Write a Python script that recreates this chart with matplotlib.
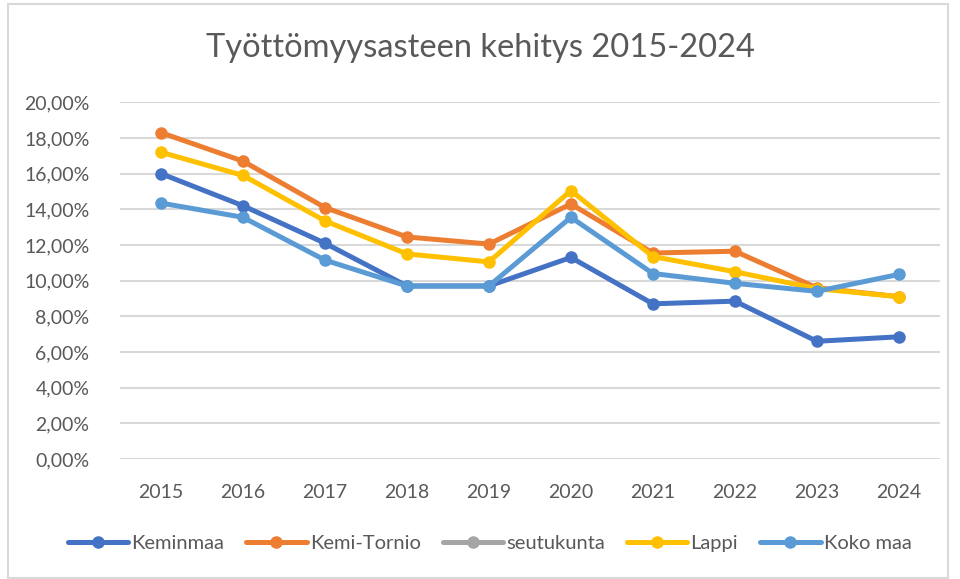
import numpy as np
import matplotlib.pyplot as plt
from matplotlib.patches import Rectangle
from matplotlib.ticker import FuncFormatter

plt.rcParams['font.family'] = ['Lato', 'DejaVu Sans']

years = ['2015', '2016', '2017', '2018', '2019', '2020', '2021', '2022', '2023', '2024']
keminmaa = [16.0, 14.2, 12.1, 9.7, 9.7, 11.3, 8.7, 8.85, 6.6, 6.85]
kemi_tornio = [18.3, 16.7, 14.1, 12.45, 12.05, 14.3, 11.55, 11.65, 9.6, 9.1]
seutukunta = [np.nan] * 10
lappi = [17.2, 15.9, 13.35, 11.5, 11.05, 15.05, 11.35, 10.5, 9.55, 9.1]
koko_maa = [14.35, 13.55, 11.15, 9.7, 9.7, 13.55, 10.4, 9.85, 9.4, 10.35]

series = [
    ('Keminmaa', keminmaa, '#4472C4'),
    ('Kemi-Tornio', kemi_tornio, '#ED7D31'),
    ('seutukunta', seutukunta, '#A5A5A5'),
    ('Lappi', lappi, '#FFC000'),
    ('Koko maa', koko_maa, '#5B9BD5'),
]

grey = '#595959'

fig = plt.figure(figsize=(9.6, 5.79), dpi=100)
ax = fig.add_axes([0.125, 0.2073, 0.854, 0.616])

x = np.arange(len(years))
for name, vals, col in series:
    ax.plot(x, np.array(vals) / 100, color=col, linewidth=3.6, marker='o',
            markersize=8, label=name, solid_capstyle='round')

ax.set_xlim(-0.5, 9.5)
ax.set_ylim(0, 0.20)
ax.set_yticks(np.arange(0, 0.201, 0.02))
ax.yaxis.set_major_formatter(FuncFormatter(lambda v, p: f'{v * 100:.2f}%'.replace('.', ',')))
ax.set_xticks(x)
ax.set_xticklabels(years)
ax.grid(axis='y', color='#D9D9D9', linewidth=1.5)
ax.set_axisbelow(True)
for s in ax.spines.values():
    s.set_visible(False)
ax.tick_params(length=0, colors=grey, labelsize=14)
ax.tick_params(axis='y', pad=22)
ax.tick_params(axis='x', pad=18)

fig.text(0.5, 0.917, 'Työttömyysasteen kehitys 2015-2024', ha='center', va='center',
         fontsize=23.5, color=grey)

fig.legend(loc='center', bbox_to_anchor=(0.51, 0.062), ncol=5, frameon=False,
           fontsize=14.5, labelcolor=grey, handlelength=3.0, handletextpad=0.15,
           columnspacing=1.1)

fig.patches.append(Rectangle((8 / 960, 1 / 579), 940 / 960, 574 / 579, transform=fig.transFigure,
                             fill=False, edgecolor='#D9D9D9', linewidth=1.5))

fig.savefig('out.png', dpi=100)
